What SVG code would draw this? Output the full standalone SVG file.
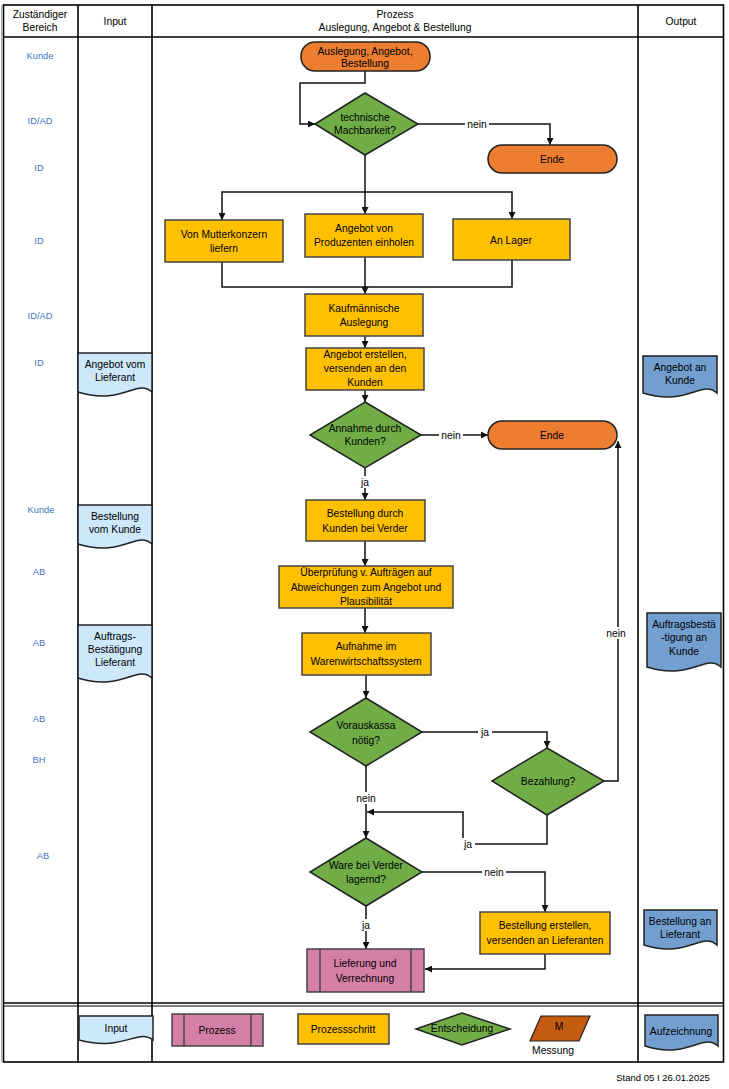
<svg xmlns="http://www.w3.org/2000/svg" width="729" height="1089" viewBox="0 0 729 1089">
<style>
text{font-family:"Liberation Sans",Arial,sans-serif;font-size:10.3px;fill:#000;text-anchor:middle;dominant-baseline:central}
.h{font-size:10.3px}
.z{fill:#4472C4;font-size:9.3px}
.grid{stroke:#000;stroke-width:1.6;fill:none}
.term{fill:#ED7D31;stroke:#222;stroke-width:1.5}
.dec{fill:#70AD47;stroke:#222;stroke-width:1.5}
.step{fill:#FFC000;stroke:#444;stroke-width:1.5}
.proc{fill:#D57FA8;stroke:#444;stroke-width:1.5}
.din{fill:#CCE8FA;stroke:#222;stroke-width:1.5}
.dout{fill:#729FCF;stroke:#222;stroke-width:1.5}
.mess{fill:#C55A11;stroke:#222;stroke-width:1.2}
.c{stroke:#111;stroke-width:1.5;fill:none}
.ca{stroke:#111;stroke-width:1.5;fill:none;marker-end:url(#ah)}
.lb{fill:#fff}
</style>
<defs>
<marker id="ah" viewBox="0 0 10 10" refX="10" refY="5" markerWidth="7" markerHeight="7" orient="auto" markerUnits="userSpaceOnUse">
<path d="M0,0 L10,5 L0,10 Z" fill="#111"/>
</marker>
</defs>
<rect width="729" height="1089" fill="#fff"/>
<g id="table">
<line x1="1.5" y1="5" x2="1.5" y2="1062" stroke="#999" stroke-width="0.8"/>
<rect class="grid" x="3.5" y="5" width="720" height="1057"/>
<line class="grid" x1="3.5" y1="37" x2="723.5" y2="37"/>
<line class="grid" x1="78" y1="5" x2="78" y2="1062"/>
<line class="grid" x1="152" y1="5" x2="152" y2="1062"/>
<line class="grid" x1="638" y1="5" x2="638" y2="1062"/>
<line class="grid" x1="3.5" y1="1003" x2="723.5" y2="1003"/>
<line x1="3.5" y1="1006" x2="723.5" y2="1006" stroke="#000" stroke-width="1"/>
<text class="h" x="40" y="14">Zuständiger</text>
<text class="h" x="40" y="27">Bereich</text>
<text class="h" x="115" y="21">Input</text>
<text class="h" x="395" y="14">Prozess</text>
<text class="h" x="395" y="27">Auslegung, Angebot &amp; Bestellung</text>
<text class="h" x="681" y="21">Output</text>
</g>
<g id="bereich">
<text class="z" x="40" y="56">Kunde</text>
<text class="z" x="40" y="121">ID/AD</text>
<text class="z" x="39" y="168">ID</text>
<text class="z" x="39" y="241">ID</text>
<text class="z" x="40" y="316">ID/AD</text>
<text class="z" x="39" y="363">ID</text>
<text class="z" x="41" y="510">Kunde</text>
<text class="z" x="39" y="572">AB</text>
<text class="z" x="39" y="643">AB</text>
<text class="z" x="39" y="719">AB</text>
<text class="z" x="39" y="760">BH</text>
<text class="z" x="43" y="856">AB</text>
</g>
<g id="connectors">
<polyline class="ca" points="365,71 365,83 300,83 300,124 315,124"/>
<polyline class="ca" points="418,124 550,124 550,145"/>
<polyline class="ca" points="365,155 365,214"/>
<polyline class="ca" points="365,192 222,192 222,220"/>
<polyline class="ca" points="365,192 512,192 512,219"/>
<polyline class="c" points="222,262 222,287 512,287 512,260"/>
<polyline class="ca" points="365,257 365,294"/>
<polyline class="ca" points="365,336 365,348"/>
<polyline class="ca" points="365,390 365,402"/>
<polyline class="ca" points="421,435 488,435"/>
<polyline class="ca" points="365,468 365,500"/>
<polyline class="ca" points="365,541 365,566"/>
<polyline class="ca" points="365,608 365,633"/>
<polyline class="ca" points="366,675 366,698"/>
<polyline class="ca" points="422,732 547,732 547,748"/>
<polyline class="ca" points="604,781 618,781 618,441"/>
<polyline class="ca" points="547,815 547,844 463,844 463,812 367,812"/>
<polyline class="ca" points="366,766 366,838"/>
<polyline class="ca" points="422,872 545,872 545,912"/>
<polyline class="ca" points="545,954 545,969 425,969"/>
<polyline class="ca" points="366,906 366,949"/>
<rect class="lb" x="465" y="118" width="24" height="12"/><text x="477" y="124">nein</text>
<rect class="lb" x="439" y="429" width="24" height="12"/><text x="451" y="435">nein</text>
<rect class="lb" x="358" y="476" width="14" height="12"/><text x="365" y="482">ja</text>
<rect class="lb" x="478" y="726" width="14" height="12"/><text x="485" y="732">ja</text>
<rect class="lb" x="604" y="627" width="24" height="12"/><text x="616" y="633">nein</text>
<rect class="lb" x="461" y="838" width="14" height="12"/><text x="468" y="844">ja</text>
<rect class="lb" x="354" y="792" width="24" height="12"/><text x="366" y="798">nein</text>
<rect class="lb" x="482" y="866" width="24" height="12"/><text x="494" y="872">nein</text>
<rect class="lb" x="359" y="919" width="14" height="12"/><text x="366" y="925">ja</text>
</g>
<g id="start"><rect class="term" x="301" y="42" width="129" height="29" rx="14"/><text x="365" y="51">Auslegung, Angebot,</text><text x="365" y="63">Bestellung</text></g>
<g id="d-machbarkeit"><polygon class="dec" points="365,93 418,124 365,155 315,124"/><text x="365" y="117">technische</text><text x="365" y="130">Machbarkeit?</text></g>
<g id="ende1"><rect class="term" x="488" y="145" width="129" height="28" rx="14"/><text x="552" y="159">Ende</text></g>
<g id="mutterkonzern"><rect class="step" x="165" y="220" width="118" height="42"/><text x="224" y="234">Von Mutterkonzern</text><text x="224" y="248">liefern</text></g>
<g id="produzenten"><rect class="step" x="305" y="214" width="118" height="43"/><text x="364" y="228">Angebot von</text><text x="364" y="242">Produzenten einholen</text></g>
<g id="lager"><rect class="step" x="453" y="219" width="117" height="41"/><text x="511" y="240">An Lager</text></g>
<g id="kaufm"><rect class="step" x="305" y="294" width="118" height="42"/><text x="364" y="308">Kaufmännische</text><text x="364" y="322">Auslegung</text></g>
<g id="angebot-erstellen"><rect class="step" x="306" y="348" width="118" height="42"/><text x="365" y="354">Angebot erstellen,</text><text x="365" y="368">versenden an den</text><text x="365" y="382">Kunden</text></g>
<g id="d-annahme"><polygon class="dec" points="365,402 421,435 365,468 310,435"/><text x="365" y="428">Annahme durch</text><text x="365" y="441">Kunden?</text></g>
<g id="ende2"><rect class="term" x="488" y="421" width="129" height="28" rx="14"/><text x="552" y="435">Ende</text></g>
<g id="bestellung-kunde"><rect class="step" x="306" y="500" width="119" height="41"/><text x="365" y="513">Bestellung durch</text><text x="365" y="528">Kunden bei Verder</text></g>
<g id="ueberpruefung"><rect class="step" x="279" y="566" width="174" height="42"/><text x="366" y="572">Überprüfung v. Aufträgen auf</text><text x="366" y="587">Abweichungen zum Angebot und</text><text x="366" y="601">Plausibilität</text></g>
<g id="aufnahme"><rect class="step" x="302" y="633" width="129" height="42"/><text x="366" y="646">Aufnahme im</text><text x="366" y="661">Warenwirtschaftssystem</text></g>
<g id="d-vorauskassa"><polygon class="dec" points="366,698 422,732 366,766 310,732"/><text x="366" y="725">Vorauskassa</text><text x="366" y="740">nötig?</text></g>
<g id="d-bezahlung"><polygon class="dec" points="547,748 604,781 547,815 492,781"/><text x="548" y="781">Bezahlung?</text></g>
<g id="d-ware"><polygon class="dec" points="366,838 422,872 366,906 310,872"/><text x="366" y="865">Ware bei Verder</text><text x="366" y="879">lagernd?</text></g>
<g id="bestellung-lieferant"><rect class="step" x="480" y="912" width="130" height="42"/><text x="545" y="925">Bestellung erstellen,</text><text x="545" y="940">versenden an Lieferanten</text></g>
<g id="lieferung"><rect class="proc" x="307" y="949" width="117" height="43"/><line x1="320" y1="949" x2="320" y2="992" stroke="#444" stroke-width="1.5"/><line x1="411" y1="949" x2="411" y2="992" stroke="#444" stroke-width="1.5"/><text x="365" y="963">Lieferung und</text><text x="365" y="978">Verrechnung</text></g>
<g id="in-angebot"><path class="din" d="M78,353 H152 V392 C137,378 122,406 78,392 Z"/><text x="115" y="364">Angebot vom</text><text x="115" y="377">Lieferant</text></g>
<g id="in-bestellung"><path class="din" d="M78,505 H152 V544 C137,530 122,558 78,544 Z"/><text x="115" y="516">Bestellung</text><text x="115" y="529">vom Kunde</text></g>
<g id="in-auftrag"><path class="din" d="M78,625 H152 V678 C137,664 122,692 78,678 Z"/><text x="115" y="636">Auftrags-</text><text x="115" y="649">Bestätigung</text><text x="115" y="662">Lieferant</text></g>
<g id="out-angebot"><path class="dout" d="M643,356 H717 V393 C702,379 687,407 643,393 Z"/><text x="680" y="367">Angebot an</text><text x="680" y="380">Kunde</text></g>
<g id="out-auftrag"><path class="dout" d="M647,613 H721 V667 C706,653 691,681 647,667 Z"/><text x="684" y="624">Auftragsbestä</text><text x="684" y="637">-tigung an</text><text x="684" y="651">Kunde</text></g>
<g id="out-bestellung"><path class="dout" d="M644,910 H717 V945 C702,931 687,959 644,945 Z"/><text x="680" y="921">Bestellung an</text><text x="680" y="934">Lieferant</text></g>
<g id="legend">
<path class="din" d="M79,1016 H153 V1040 C138,1028 123,1052 79,1040 Z"/><text x="116" y="1028">Input</text>
<rect class="proc" x="172" y="1014" width="91" height="32"/><line x1="184" y1="1014" x2="184" y2="1046" stroke="#444" stroke-width="1.5"/><line x1="251" y1="1014" x2="251" y2="1046" stroke="#444" stroke-width="1.5"/><text x="217" y="1030">Prozess</text>
<rect class="step" x="298" y="1014" width="91" height="30"/><text x="343" y="1029">Prozessschritt</text>
<polygon class="dec" points="462,1013 510,1029 462,1045 416,1029"/><text x="462" y="1028">Entscheidung</text>
<polygon class="mess" points="541,1016 590,1016 579,1041 530,1041"/><text x="559" y="1026">M</text><text x="553" y="1050">Messung</text>
<path class="dout" d="M645,1015 H718 V1046 C703,1032 688,1060 645,1046 Z"/><text x="681" y="1031">Aufzeichnung</text>
</g>
<text x="663" y="1077" style="font-size:9.5px">Stand 05 I 26.01.2025</text>
</svg>
